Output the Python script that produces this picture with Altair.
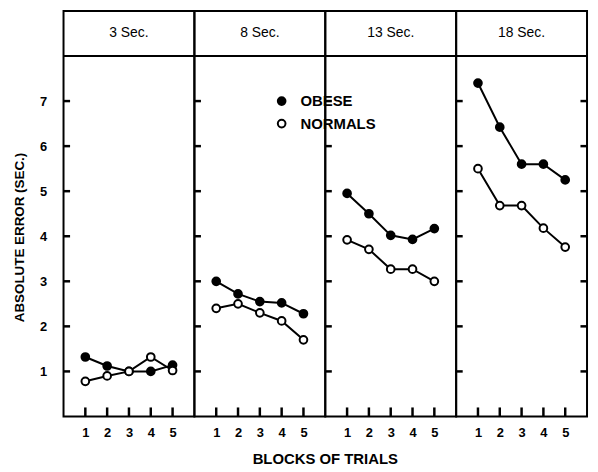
import altair as alt
import pandas as pd

panels = ["3 Sec.", "8 Sec.", "13 Sec.", "18 Sec."]
blocks = [1, 2, 3, 4, 5]
groups = ["OBESE", "NORMALS"]

obese_3 = [1.32, 1.12, 1.0, 1.0, 1.14]
normals_3 = [0.78, 0.9, 1.0, 1.32, 1.02]
obese_8 = [3.0, 2.72, 2.55, 2.52, 2.28]
normals_8 = [2.4, 2.5, 2.3, 2.12, 1.7]
obese_13 = [4.95, 4.5, 4.02, 3.93, 4.17]
normals_13 = [3.92, 3.71, 3.27, 3.27, 3.0]
obese_18 = [7.4, 6.42, 5.6, 5.6, 5.25]
normals_18 = [5.5, 4.68, 4.68, 4.18, 3.76]

y_ticks = [1, 2, 3, 4, 5, 6, 7]

series = {
    "3 Sec.": (obese_3, normals_3),
    "8 Sec.": (obese_8, normals_8),
    "13 Sec.": (obese_13, normals_13),
    "18 Sec.": (obese_18, normals_18),
}

rows = []
for p in panels:
    ob, nm = series[p]
    for b, v in zip(blocks, ob):
        rows.append(dict(kind="data", panel=p, block=b, group="OBESE", value=v))
    for b, v in zip(blocks, nm):
        rows.append(dict(kind="data", panel=p, block=b, group="NORMALS", value=v))
    rows.append(dict(kind="header", panel=p, block=3, value=8.5, label=p))
    for t in y_ticks:
        rows.append(dict(kind="ytick", panel=p, block=0, block2=0.3, value=t))
        if p == panels[-1]:
            rows.append(dict(kind="ytick", panel=p, block=5.7, block2=6, value=t))
    for b in blocks:
        rows.append(dict(kind="xtick", panel=p, block=b, value=0, value2=0.2))
# legend inside the "8 Sec." panel
rows.append(dict(kind="legend", panel="8 Sec.", block=4.0, value=7.0, group="OBESE", label="OBESE"))
rows.append(dict(kind="legend", panel="8 Sec.", block=4.0, value=6.5, group="NORMALS", label="NORMALS"))

df = pd.DataFrame(rows)

FONT = "Liberation Sans"

xs = alt.Scale(domain=[0, 6], nice=False, zero=False)
ys = alt.Scale(domain=[0, 9], nice=False)

x_axis = alt.Axis(values=blocks, title=None, ticks=False, domain=False,
                  labelFont=FONT, labelFontWeight="bold", labelOverlap=False,
                  labelFontSize=13, labelColor="black", labelPadding=10, grid=False)
y_axis = alt.Axis(values=y_ticks, title="ABSOLUTE  ERROR (SEC.)", ticks=False, domain=False,
                  labelFont=FONT, labelFontWeight="bold", labelFontSize=13, labelColor="black",
                  labelPadding=17, grid=False, titleFont=FONT, titleFontSize=13.5,
                  titleFontWeight="bold", titleColor="black", titleY=228, titlePadding=13)


def X(field):
    return alt.X(field, scale=xs, axis=x_axis)


def Y(field):
    return alt.Y(field, scale=ys, axis=y_axis)


base = alt.Chart()

lines = base.mark_line(color="black", strokeWidth=2).encode(
    x=X("block:Q"), y=Y("value:Q"), detail="group:N",
).transform_filter(alt.datum.kind == "data")

fill_scale = alt.Scale(domain=groups, range=["black", "white"])

points = base.mark_point(shape="circle", size=60, filled=True, stroke="black",
                         strokeWidth=2, opacity=1).encode(
    x=X("block:Q"), y=Y("value:Q"),
    fill=alt.Fill("group:N", scale=fill_scale, legend=None),
).transform_filter((alt.datum.kind == "data") | (alt.datum.kind == "legend"))

legend_text = base.mark_text(align="left", baseline="middle", dx=19, font=FONT,
                             fontWeight="bold", fontSize=15, color="black").encode(
    x=X("block:Q"), y=Y("value:Q"), text="label:N",
).transform_filter(alt.datum.kind == "legend")

header_rule = base.mark_rule(color="black", strokeWidth=2).encode(
    y=Y("y8:Q"),
).transform_filter(alt.datum.kind == "header").transform_calculate(y8="8")

header_text = base.mark_text(align="center", baseline="middle", font=FONT,
                             fontSize=14, color="black").encode(
    x=X("block:Q"), y=Y("value:Q"), text="label:N",
).transform_filter(alt.datum.kind == "header")

yticks = base.mark_rule(color="black", strokeWidth=2.5).encode(
    x=X("block:Q"), x2="block2:Q", y=Y("value:Q"),
).transform_filter(alt.datum.kind == "ytick")

xticks = base.mark_rule(color="black", strokeWidth=2.5).encode(
    x=X("block:Q"), y=Y("value:Q"), y2="value2:Q",
).transform_filter(alt.datum.kind == "xtick")

layered = alt.layer(lines, points, legend_text, header_rule, header_text, yticks, xticks).properties(
    width=132, height=409
)

chart = layered.facet(
    data=df,
    column=alt.Column("panel:N", sort=panels,
                      header=alt.Header(labels=False, title="BLOCKS OF TRIALS",
                                        titleOrient="bottom", titleFont=FONT,
                                        titleFontSize=15, titleFontWeight="bold",
                                        titleColor="black", titlePadding=3)),
    spacing=0,
    bounds="flush",
).configure_view(stroke="black", strokeWidth=2).configure_facet(spacing=0).properties(
    padding={"left": 4, "top": 0, "right": 0, "bottom": 0}
)

chart.save("out.html", embed_options={"renderer": "svg", "actions": False})
